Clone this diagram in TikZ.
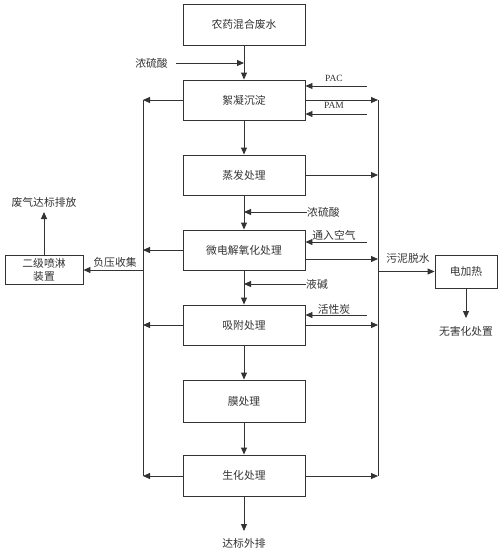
\documentclass[tikz,border=0pt]{standalone}
\usepackage{fontspec}
\setmainfont{Noto Sans CJK SC}
\newfontfamily\latinfont{Liberation Serif}
\usetikzlibrary{arrows.meta}
\definecolor{ln}{HTML}{333333}
\definecolor{tx}{HTML}{333333}
\begin{document}
\begin{tikzpicture}[x=1pt,y=-1pt,
  every node/.style={text=tx,font=\fontsize{10.8}{13}\selectfont},
  proc/.style={draw=ln,line width=0.9pt,minimum width=122pt,minimum height=40pt,inner sep=0pt},
  sidebox/.style={draw=ln,line width=0.9pt,inner sep=0pt,align=center},
  lbl/.style={inner sep=0pt},
  arr/.style={draw=ln,line width=0.9pt,-{Triangle[length=7pt,width=6pt]}},
  ln/.style={draw=ln,line width=0.9pt}]
\useasboundingbox (0,0) rectangle (500,551);
% main column
\node[proc,minimum height=41pt] (b1) at (244,24.5) {农药混合废水};
\node[proc] (b2) at (244,100) {絮凝沉淀};
\node[proc] (b3) at (244,175) {蒸发处理};
\node[proc] (b4) at (244,250) {微电解氧化处理};
\node[proc] (b5) at (244,325) {吸附处理};
\node[proc,minimum height=42pt] (b6) at (244,401) {膜处理};
\node[proc,minimum height=41pt] (b7) at (244,475.5) {生化处理};
\draw[arr] (b1) -- (b2);
\draw[arr] (b2) -- (b3);
\draw[arr] (b3) -- (b4);
\draw[arr] (b4) -- (b5);
\draw[arr] (b5) -- (b6);
\draw[arr] (b6) -- (b7);
\coordinate (outE) at (244,531);
\draw[arr] (b7) -- (outE);
\node[lbl] (outL) at (244,543) {达标外排};
% inputs
\node[lbl] (acid1) at (151.5,63) {浓硫酸};
\coordinate (acid1S) at (176,63);
\coordinate (acid1E) at (244,63);
\draw[arr] (acid1S) -- (acid1E);
\node[lbl,font=\latinfont\fontsize{9.5}{11}\selectfont] (pac) at (334,78) {PAC};
\coordinate (pacS) at (367,86);
\draw[arr] (pacS) -- (pacS -| b2.east);
\node[lbl,font=\latinfont\fontsize{9.5}{11}\selectfont] (pam) at (334,105) {PAM};
\coordinate (pamS) at (367,114);
\draw[arr] (pamS) -- (pamS -| b2.east);
\node[lbl,anchor=west] (acid2) at (307,212) {浓硫酸};
\coordinate (acid2E) at (244,212);
\draw[arr] (acid2.west) -- (acid2E);
\node[lbl] (air) at (334,235) {通入空气};
\coordinate (airS) at (367,242);
\draw[arr] (airS) -- (airS -| b4.east);
\node[lbl,anchor=west] (alk) at (306,284) {液碱};
\coordinate (alkE) at (244,284);
\draw[arr] (alk.west) -- (alkE);
\node[lbl] (carbon) at (334,309) {活性炭};
\coordinate (carS) at (367,315);
\draw[arr] (carS) -- (carS -| b5.east);
% left bus
\coordinate (lTop) at (143,100);
\coordinate (lBot) at (143,476);
\draw[ln] (lTop) -- (lBot);
\draw[arr] (b2.west) -- (lTop);
\draw[arr] (b4.west) -- (b4.west -| lTop);
\draw[arr] (b5.west) -- (b5.west -| lTop);
\draw[arr] (b7.west |- lBot) -- (lBot);
% right bus
\coordinate (rTop) at (378,100);
\coordinate (rBot) at (378,476);
\draw[ln] (rTop) -- (rBot);
\draw[arr] (b2.east) -- (rTop);
\draw[arr] (b3.east) -- (b3.east -| rTop);
\coordinate (b4r) at (305,259);
\draw[arr] (b4r) -- (b4r -| rTop);
\draw[arr] (b5.east) -- (b5.east -| rTop);
\draw[arr] (b7.east |- rBot) -- (rBot);
% gas treatment
\node[sidebox,minimum width=78pt,minimum height=29pt] (spray) at (44,270) {二级喷淋\\装置};
\node[lbl] (negL) at (115,262) {负压收集};
\coordinate (lMid) at (143,270);
\draw[arr] (lMid) -- (spray.east);
\coordinate (gasE) at (44,212);
\draw[arr] (spray.north) -- (gasE);
\node[lbl] (gasL) at (44,202) {废气达标排放};
% sludge treatment
\node[sidebox,minimum width=62pt,minimum height=33pt] (heat) at (466,271.5) {电加热};
\coordinate (rMid) at (378,271.5);
\draw[arr] (rMid) -- (heat.west);
\node[lbl] (sludgeL) at (408,258) {污泥脱水};
\coordinate (heatE) at (466,318);
\draw[arr] (heat.south) -- (heatE);
\node[lbl] (safeL) at (466,331) {无害化处置};
\end{tikzpicture}
\end{document}
